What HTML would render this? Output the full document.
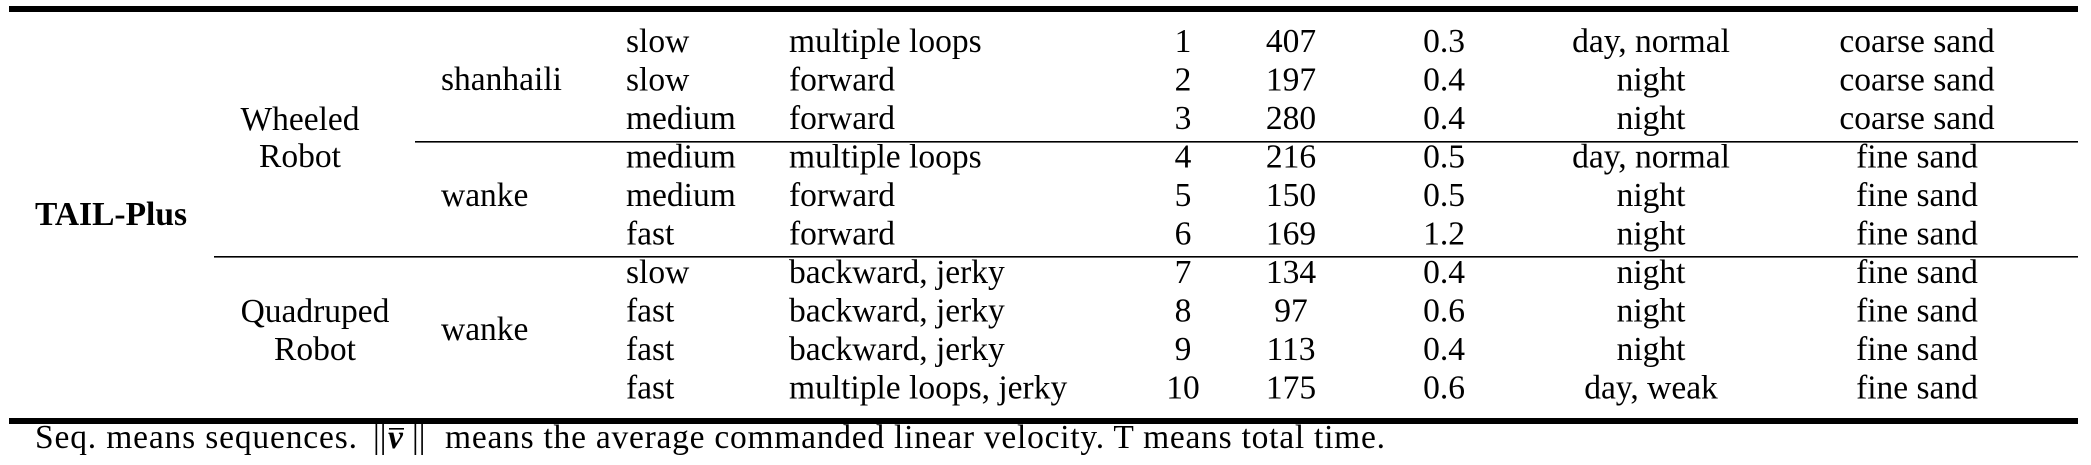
<!DOCTYPE html>
<html><head><meta charset="utf-8"><style>
html,body{margin:0;padding:0;background:#fff;}
svg{display:block;}
text{font-family:"Liberation Serif","Times New Roman",serif;font-size:33.5px;fill:#000;}
</style></head><body>
<svg id="tbl" width="2091" height="465" viewBox="0 0 2091 465" xmlns="http://www.w3.org/2000/svg">
<rect x="9" y="6" width="2069" height="6" fill="#000"/>
<rect x="415" y="141" width="1663" height="1.6" fill="#000"/>
<rect x="214" y="256" width="1864" height="1.6" fill="#000"/>
<rect x="9" y="418" width="2069" height="6" fill="#000"/>
<text x="35" y="225" font-weight="bold">TAIL-Plus</text>
<text x="300" y="130" text-anchor="middle">Wheeled</text>
<text x="300" y="167" text-anchor="middle">Robot</text>
<text x="315" y="322" text-anchor="middle">Quadruped</text>
<text x="315" y="360" text-anchor="middle">Robot</text>
<text x="441" y="90">shanhaili</text>
<text x="441" y="206">wanke</text>
<text x="441" y="340">wanke</text>
<g id="rows"></g>
<text x="35" y="448" textLength="322" lengthAdjust="spacing">Seq. means sequences.</text>
<text x="373" y="448">||</text>
<text x="388" y="448" font-weight="bold" font-style="italic">v</text>
<rect x="389" y="428" width="15" height="1.6" fill="#000"/>
<text x="412" y="448">||</text>
<text x="445" y="448" textLength="940" lengthAdjust="spacing">means the average commanded linear velocity. T means total time.</text>
</svg>
<script>
const speeds = ["slow","slow","medium","medium","medium","fast","slow","fast","fast","fast"];
const paths = ["multiple loops","forward","forward","multiple loops","forward","forward","backward, jerky","backward, jerky","backward, jerky","multiple loops, jerky"];
const seqs = ["1","2","3","4","5","6","7","8","9","10"];
const times = [407,197,280,216,150,169,134,97,113,175];
const velocities = ["0.3","0.4","0.4","0.5","0.5","1.2","0.4","0.6","0.4","0.6"];
const lights = ["day, normal","night","night","day, normal","night","night","night","night","night","day, weak"];
const terrains = ["coarse sand","coarse sand","coarse sand","fine sand","fine sand","fine sand","fine sand","fine sand","fine sand","fine sand"];
const NS = "http://www.w3.org/2000/svg";
const g = document.getElementById('rows');
function rowY(i){ return 52 + 38.5*i; }
function addText(x, y, s, anchor, name){
  const t = document.createElementNS(NS,'text');
  t.setAttribute('x', x);
  t.setAttribute('y', y);
  if (anchor) t.setAttribute('text-anchor', anchor);
  t.textContent = s;
  
  
  g.appendChild(t);
}
for (let i = 0; i < seqs.length; i++){
  const y = rowY(i);
  addText(626, y, speeds[i], null, 'speed-cell');
  addText(789, y, paths[i], null, 'path-cell');
  addText(1183, y, seqs[i], 'middle', 'seq-cell');
  addText(1291, y, String(times[i]), 'middle', 'time-cell');
  addText(1444, y, velocities[i], 'middle', 'velocity-cell');
  addText(1651, y, lights[i], 'middle', 'light-cell');
  addText(1917, y, terrains[i], 'middle', 'terrain-cell');
}
</script>
</body></html>
